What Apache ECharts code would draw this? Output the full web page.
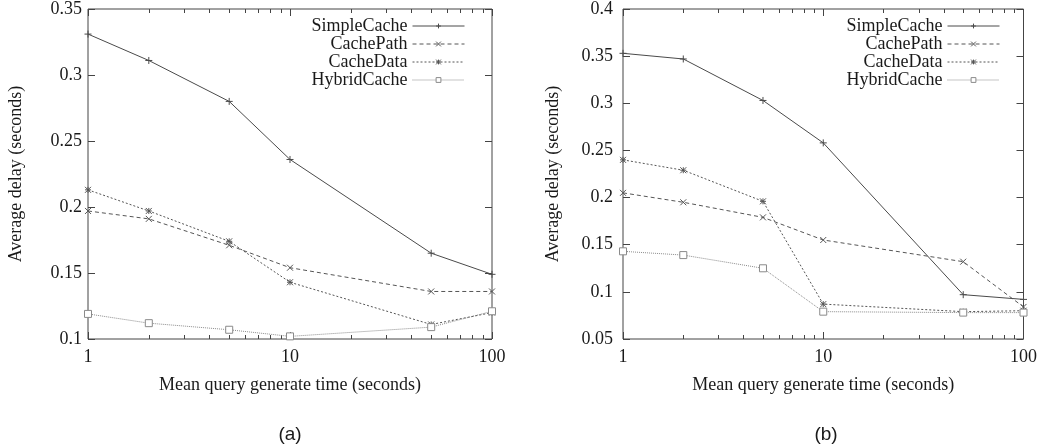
<!DOCTYPE html>
<html><head><meta charset="utf-8">
<script src="https://cdn.jsdelivr.net/npm/echarts@6/dist/echarts.min.js"></script>
<style>html,body{margin:0;padding:0;background:#fff}#c{width:1040px;height:448px}</style>
</head><body><div id="c"></div>
<script>
const xValues = [1, 2, 5, 10, 50, 100];
const seriesNames = ['SimpleCache', 'CachePath', 'CacheData', 'HybridCache'];
// panel (a)
const a_SimpleCache = [0.331, 0.311, 0.280, 0.236, 0.165, 0.149];
const a_CachePath   = [0.197, 0.191, 0.171, 0.154, 0.136, 0.136];
const a_CacheData   = [0.213, 0.197, 0.174, 0.143, 0.111, 0.120];
const a_HybridCache = [0.119, 0.112, 0.107, 0.102, 0.109, 0.121];
// panel (b)
const b_SimpleCache = [0.353, 0.347, 0.303, 0.258, 0.097, 0.092];
const b_CachePath   = [0.205, 0.195, 0.179, 0.155, 0.132, 0.084];
const b_CacheData   = [0.240, 0.229, 0.196, 0.087, 0.079, 0.080];
const b_HybridCache = [0.143, 0.139, 0.125, 0.079, 0.078, 0.078];
const yTicksA = [0.1, 0.35, 0.05];   // min, max, interval
const yTicksB = [0.05, 0.4, 0.05];
const minorTicks = [2,3,4,5,6,7,8,9,20,30,40,50,60,70,80,90];
const captions = ['(a)', '(b)'];
const xTitle = 'Mean query generate time (seconds)';
const yTitle = 'Average delay (seconds)';

const FONT = '"Liberation Serif", "DejaVu Serif", serif';
const FS = 18;
const AX = '#444';
const TXT = '#1a1a1a';
const styles = [
  {color:'#4a4a4a', type:'solid', sym:'path://M0,5L10,5M5,0L5,10', size:7},
  {color:'#555', type:[4,3], sym:'path://M0,0L10,10M10,0L0,10', size:6},
  {color:'#555', type:[2,2], sym:'path://M0,0L10,10M10,0L0,10M0,5L10,5M5,0L5,10', size:6},
  {color:'#8a8a8a', type:[1,1], sym:'rect', size:7}
];
const dataA = [a_SimpleCache, a_CachePath, a_CacheData, a_HybridCache];
const dataB = [b_SimpleCache, b_CachePath, b_CacheData, b_HybridCache];

const grids = [
  {left:88, right:548, top:9, bottom:109, show:true, borderColor:AX, borderWidth:1, backgroundColor:'transparent'},
  {left:623, right:13, top:9, bottom:109, show:true, borderColor:AX, borderWidth:1, backgroundColor:'transparent'}
];
const xAxis = [], yAxis = [];
[0,1].forEach(g => {
  xAxis.push({type:'log', logBase:10, min:1, max:100, gridIndex:g, position:'bottom',
    name:xTitle, nameLocation:'middle', nameGap:37,
    nameTextStyle:{fontFamily:FONT, fontSize:FS, color:TXT},
    axisLine:{show:false}, splitLine:{show:false},
    axisTick:{inside:true, length:7, lineStyle:{color:AX}},
    axisLabel:{fontFamily:FONT, fontSize:FS, color:TXT, margin:9}});
  xAxis.push({type:'log', logBase:10, min:1, max:100, gridIndex:g, position:'top',
    axisLine:{show:false}, splitLine:{show:false}, axisLabel:{show:false},
    axisTick:{inside:true, length:7, lineStyle:{color:AX}}});
  xAxis.push({type:'log', logBase:10, min:1, max:100, gridIndex:g, position:'bottom',
    axisLine:{show:false}, splitLine:{show:false}, axisLabel:{show:false},
    axisTick:{inside:true, length:4, customValues:minorTicks, lineStyle:{color:AX}}});
  xAxis.push({type:'log', logBase:10, min:1, max:100, gridIndex:g, position:'top',
    axisLine:{show:false}, splitLine:{show:false}, axisLabel:{show:false},
    axisTick:{inside:true, length:4, customValues:minorTicks, lineStyle:{color:AX}}});
  const t = g === 0 ? yTicksA : yTicksB;
  yAxis.push({type:'value', min:t[0], max:t[1], interval:t[2], gridIndex:g, position:'left',
    name:yTitle, nameLocation:'middle', nameGap: g===0 ? 63 : 61,
    nameTextStyle:{fontFamily:FONT, fontSize:FS, color:TXT},
    axisLine:{show:false}, splitLine:{show:false},
    axisTick:{inside:true, length:7, lineStyle:{color:AX}},
    axisLabel:{fontFamily:FONT, fontSize:FS, color:TXT, margin: g===0 ? 6 : 10,
      formatter: v => String(+v.toFixed(2))}});
  yAxis.push({type:'value', min:t[0], max:t[1], interval:t[2], gridIndex:g, position:'right',
    axisLine:{show:false}, splitLine:{show:false}, axisLabel:{show:false},
    axisTick:{inside:true, length:7, lineStyle:{color:AX}}});
});

const series = [];
[dataA, dataB].forEach((arrs, g) => {
  arrs.forEach((vals, i) => {
    const s = styles[i];
    series.push({
      type:'line', name:seriesNames[i], xAxisIndex:g*4, yAxisIndex:g*2,
      data: xValues.map((x, k) => [x, vals[k]]),
      symbol: s.sym, symbolSize: s.size, showSymbol:true,
      lineStyle:{color:s.color, width:1, type:s.type},
      itemStyle:{color: i===3 ? '#fff' : s.color, borderColor:s.color, borderWidth:1},
      emphasis:{disabled:true}, animation:false, z: 3 + i
    });
  });
});

const legendBase = {orient:'vertical', align:'right', itemWidth:52, itemHeight:6, itemGap:0,
  top:12, lineStyle:{width:1}, itemStyle:{borderWidth:1},
  textStyle:{fontFamily:FONT, fontSize:FS, color:TXT, lineHeight:18}, data:seriesNames,
  selectedMode:false};
const option = {
  animation:false,
  grid: grids, xAxis, yAxis, series,
  legend:[Object.assign({}, legendBase, {right:570}), Object.assign({}, legendBase, {right:35})],
  graphic:[
    {type:'text', x:290, y:435, style:{text:captions[0], font:'19px "Liberation Sans", Arial, sans-serif', fill:TXT, align:'center', verticalAlign:'middle'}},
    {type:'text', x:826, y:435, style:{text:captions[1], font:'19px "Liberation Sans", Arial, sans-serif', fill:TXT, align:'center', verticalAlign:'middle'}}
  ]
};
const chart = echarts.init(document.getElementById('c'), null, {renderer:'canvas'});
chart.setOption(option);
</script></body></html>
